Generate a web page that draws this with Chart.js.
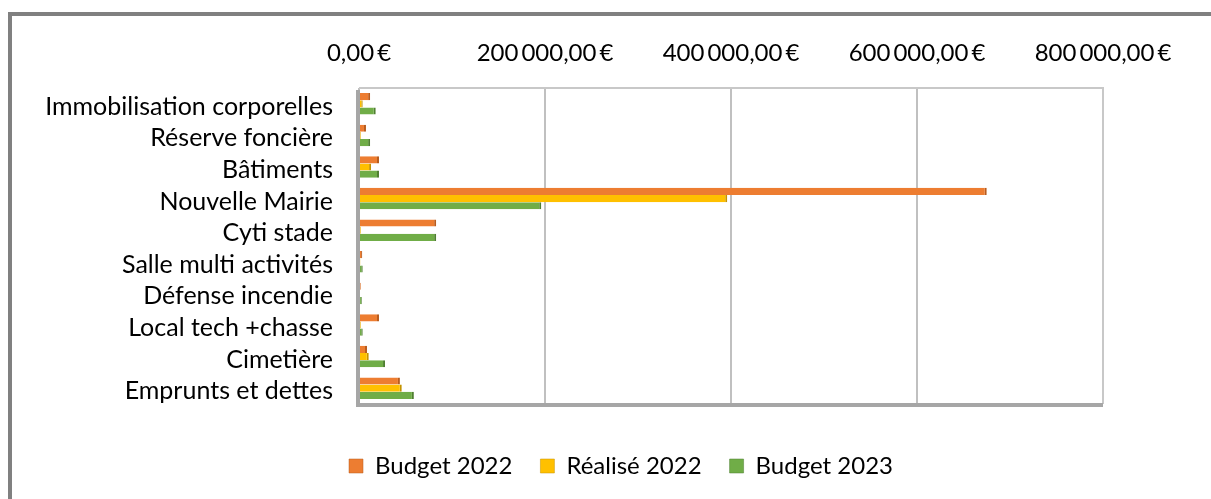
<!DOCTYPE html>
<html><head><meta charset="utf-8">
<script src="https://cdn.jsdelivr.net/npm/chart.js@4/dist/chart.umd.min.js"></script>
<style>
html,body{margin:0;padding:0;background:#fff;overflow:hidden;}
#wrap{position:absolute;left:0;top:0;width:1211px;height:499px;}
#frame{position:absolute;left:8px;top:12px;width:1300px;height:600px;border:4px solid #808080;box-sizing:border-box;}
canvas{position:absolute;left:0;top:0;}
</style></head>
<body>
<div id="wrap"><div id="frame"></div><canvas id="c" width="1211" height="499"></canvas></div>
<script>
const categories = ["Immobilisation corporelles","Réserve foncière","Bâtiments","Nouvelle Mairie","Cyti stade","Salle multi activités","Défense incendie","Local tech +chasse","Cimetière","Emprunts et dettes"];
const budget2022 = [12000, 7500, 21500, 675000, 83000, 3500, 2000, 21500, 8600, 44000];
const realise2022 = [4000, 2000, 13000, 396000, 2000, 1500, 1000, 2000, 10500, 46000];
const budget2023 = [18000, 12000, 21500, 196000, 83000, 4000, 3000, 4000, 28000, 59000];
const xTicks = [0, 200000, 400000, 600000, 800000];
const seriesNames = ["Budget 2022", "Réalisé 2022", "Budget 2023"];

function fmt(v){
  const parts = Number(v).toFixed(2).split('.');
  const intp = parts[0].replace(/\B(?=(\d{3})+$)/g, '\u2009');
  return intp + ',' + parts[1] + '\u2009€';
}
const FONT = 'Lato, "Open Sans", sans-serif';

const framePlugin = {
  id: 'framePlugin',
  afterLayout(chart){
    if (chart.legend) { chart.legend.left = 139; }
  },
  afterDatasetsDraw(chart){
    const {ctx, chartArea:a} = chart;
    ctx.save();
    ctx.strokeStyle = '#c8c8c8'; ctx.lineWidth = 2;
    ctx.beginPath(); ctx.moveTo(a.left, a.top); ctx.lineTo(a.right, a.top); ctx.lineTo(a.right, a.bottom); ctx.stroke();
    ctx.strokeStyle = '#a6a6a6'; ctx.lineWidth = 4;
    ctx.beginPath(); ctx.moveTo(a.left-1, a.top+2); ctx.lineTo(a.left-1, a.bottom+1); ctx.lineTo(a.right, a.bottom+1); ctx.stroke();
    ctx.restore();
  }
};

new Chart(document.getElementById('c'), {
  type: 'bar',
  data: {
    labels: categories,
    datasets: [
      {label: seriesNames[0], data: budget2022, backgroundColor: '#ED7D31', borderColor: '#b85c1e', borderWidth: {right: 2, top:0, bottom:0, left:0}, borderSkipped: false},
      {label: seriesNames[1], data: realise2022, backgroundColor: '#FFC000', borderColor: '#c49300', borderWidth: {right: 2, top:0, bottom:0, left:0}, borderSkipped: false},
      {label: seriesNames[2], data: budget2023, backgroundColor: '#70AD47', borderColor: '#4f7f31', borderWidth: {right: 2, top:0, bottom:0, left:0}, borderSkipped: false}
    ]
  },
  options: {
    indexAxis: 'y',
    responsive: false,
    animation: false,
    layout: {padding: {left: 0, right: 108, top: 26, bottom: 11}},
    datasets: {bar: {categoryPercentage: 0.68, barPercentage: 1.0}},
    scales: {
      x: {
        position: 'top', min: 0, max: 800000,
        afterBuildTicks(s){ s.ticks = xTicks.map(v => ({value: v})); },
        ticks: {callback: v => fmt(v), color: '#000', font: {family: FONT, size: 24}, padding: 20, maxRotation: 0, autoSkip: false},
        grid: {color: '#c0c0c0', lineWidth: 2, drawTicks: false},
        border: {display: false},
        afterFit(s){ s.height = 62; }
      },
      xb: {
        position: 'bottom', type: 'linear', display: true,
        ticks: {display: false}, grid: {display: false}, border: {display: false},
        afterFit(s){ s.height = 40; }
      },
      y: {
        ticks: {color: '#000', font: {family: FONT, size: 25}, padding: 26, labelOffset: 3, autoSkip: false},
        grid: {display: false, drawTicks: false},
        border: {display: false},
        afterFit(s){ s.width = 359; }
      }
    },
    plugins: {
      legend: {
        position: 'bottom',
        labels: {
          color: '#000', font: {family: FONT, size: 24}, boxWidth: 14, boxHeight: 14, padding: 10,
          generateLabels(chart){
            const items = Chart.defaults.plugins.legend.labels.generateLabels(chart);
            items.forEach((it, i) => { if (i < items.length - 1) it.text = it.text + '\u2003'; });
            return items;
          }
        }
      },
      tooltip: {enabled: false}
    }
  },
  plugins: [framePlugin]
});
</script>
</body></html>
